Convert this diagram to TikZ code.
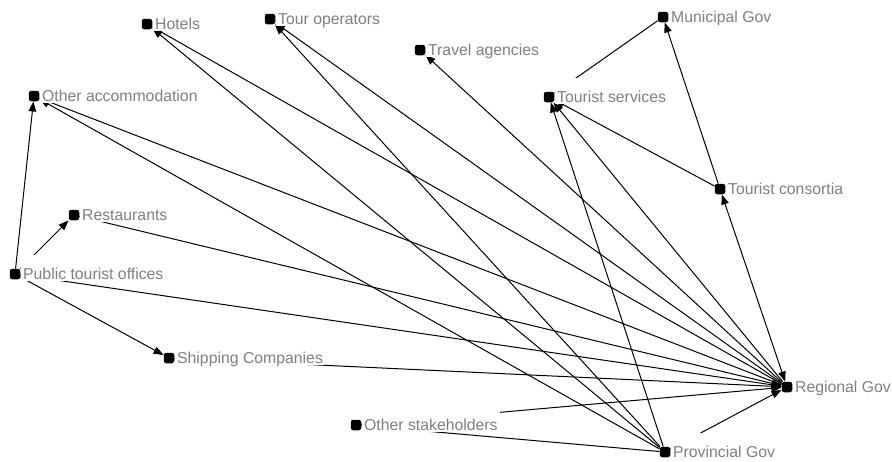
\documentclass[tikz,border=0pt]{standalone}
\usepackage{fontspec}
\setmainfont{Liberation Sans}
\usetikzlibrary{arrows.meta}
\definecolor{labelgray}{RGB}{128,128,128}
\tikzset{
  actor/.style={rectangle, rounded corners=2.5pt, fill=black, draw=none,
    minimum size=10.5pt, inner sep=0pt},
  actorname/.style={anchor=base west, fill=white, text=labelgray,
    inner xsep=2pt, inner ysep=0pt, text height=24pt, text depth=2pt,
    font=\fontsize{15.8pt}{17pt}\selectfont},
  tie/.style={line width=1pt, draw=black},
  flow/.style={tie, -{Triangle[length=10pt,width=7.5pt]}},
  mutual/.style={tie, {Triangle[length=10pt,width=7.5pt]}-{Triangle[length=10pt,width=7.5pt]}}
}
\newcommand{\actorname}[3]{\node[actorname] (#1L) at ([xshift=0.5pt,yshift=-5pt]#2.east) {#3};}
\begin{document}
\begin{tikzpicture}[x=1pt,y=-1pt]
\useasboundingbox (0,0) rectangle (892,461);
\fill[white] (0,0) rectangle (892,461);

% stakeholders
\node[actor] (hot) at (147,24) {};
\node[actor] (tour) at (270,19) {};
\node[actor] (trav) at (420,50) {};
\node[actor] (mun) at (663,17) {};
\node[actor] (ts) at (549,97) {};
\node[actor] (oa) at (34,96) {};
\node[actor] (cons) at (720,189) {};
\node[actor] (rest) at (74,215) {};
\node[actor] (pto) at (15,274) {};
\node[actor] (ship) at (169,358) {};
\node[actor] (reg) at (787,387) {};
\node[actor] (oth) at (356,425) {};
\node[actor] (prov) at (665,452) {};

% ties between stakeholders
\draw[flow] (pto) -- (oa);
\draw[flow] (pto) -- (rest);
\draw[flow] (pto) -- (ship);
\draw[flow] (rest) -- (reg);
\draw[flow] (pto) -- (reg);
\draw[flow] (ship) -- (reg);
\draw[flow] (oth) -- (reg);
\draw[flow] (prov) -- (reg);
\draw[tie] (oth) -- (prov);
\draw[flow] (reg) -- (hot);
\draw[flow] (reg) -- (tour);
\draw[flow] (reg) -- (trav);
\draw[flow] (reg) -- (ts);
\draw[flow] (reg) -- (oa);
\draw[mutual] (reg) -- (cons);
\draw[flow] (prov) -- (hot);
\draw[flow] (prov) -- (tour);
\draw[flow] (prov) -- (ts);
\draw[flow] (prov) -- (oa);
\draw[flow] (cons) -- (ts);
\draw[flow] (cons) -- (mun);
\draw[tie] (ts) -- (mun);

% names, on white plates over the ties
\actorname{hot}{hot}{Hotels}
\actorname{tour}{tour}{Tour operators}
\actorname{trav}{trav}{Travel agencies}
\actorname{mun}{mun}{Municipal Gov}
\actorname{ts}{ts}{Tourist services}
\actorname{oa}{oa}{Other accommodation}
\actorname{cons}{cons}{Tourist consortia}
\actorname{rest}{rest}{Restaurants}
\actorname{pto}{pto}{Public tourist offices}
\actorname{ship}{ship}{Shipping Companies}
\actorname{reg}{reg}{Regional Gov}
\actorname{oth}{oth}{Other stakeholders}
\actorname{prov}{prov}{Provincial Gov}
\end{tikzpicture}
\end{document}
